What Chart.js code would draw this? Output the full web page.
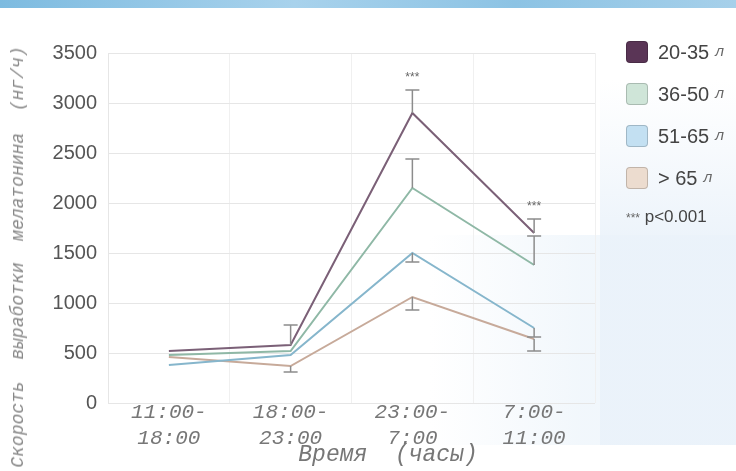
<!DOCTYPE html>
<html>
<head>
<meta charset="utf-8">
<script src="https://cdn.jsdelivr.net/npm/chart.js@4/dist/chart.umd.min.js"></script>
<style>
  html, body { margin: 0; padding: 0; background: #fff; }
  #wrap { position: relative; width: 736px; height: 471px; overflow: hidden; background: #fff; }
  #topband { position: absolute; left: 0; top: 0; width: 736px; height: 8px;
    background: linear-gradient(to right, #7dbbe0, #a8d2ec 40%, #8cc3e4 70%, #a6d0ea); }
  #tint1 { position: absolute; left: 430px; top: 235px; width: 306px; height: 210px;
    background: linear-gradient(to right, rgba(240,246,252,0), rgba(238,245,251,0.8) 50%); }
  #tint2 { position: absolute; left: 600px; top: 80px; width: 136px; height: 365px;
    background: linear-gradient(to bottom, rgba(238,245,251,0), rgba(234,242,250,0.9) 45%); }
  canvas { position: absolute; left: 0; top: 0; }
  #ytitle { position: absolute; left: 18px; top: 257px; transform: translate(-50%, -50%) rotate(-90deg);
    white-space: pre; font: italic 18px "Liberation Mono", monospace; color: #888; }
  #xtitle { position: absolute; left: 388px; top: 455px; transform: translate(-50%, -50%);
    white-space: pre; font: italic 23px "Liberation Mono", monospace; color: #777; }
  #legend { position: absolute; left: 626px; top: 31px; font: 20px "Liberation Sans", Arial, sans-serif; color: #444; }
  .row { display: flex; align-items: center; height: 42px; }
  .box { width: 20px; height: 20px; border-radius: 4px; border: 1px solid rgba(0,0,0,0.18); margin-right: 10px; }
  .unit { font: italic 15px "Liberation Mono", monospace; color: #666; margin-left: 6px; }
  #pval { margin-top: 8px; font-size: 17px; }
</style>
</head>
<body>
<div id="wrap">
  <div id="topband"></div>
  <div id="tint1"></div>
  <div id="tint2"></div>
  <canvas id="melatoninChart" width="736" height="471"></canvas>
  <div id="ytitle">Скорость  выработки  мелатонина  (нг/ч)</div>
  <div id="xtitle">Время  (часы)</div>
  <div id="legend"></div>
</div>
<script>
// categories (time intervals) and age groups
const categories = [['11:00-', '18:00'], ['18:00-', '23:00'], ['23:00-', '7:00'], ['7:00-', '11:00']];
const groups = ['20-35', '36-50', '51-65', '> 65'];

// melatonin production rate, ng/h
const rate2035 = [520, 580, 2900, 1700];
const rate3650 = [480, 520, 2150, 1380];
const rate5165 = [380, 480, 1500, 750];
const rate65 = [460, 370, 1060, 640];

// one-sided error bars (positive = up, negative = down)
const err2035 = [null, 200, 230, 140];
const err3650 = [null, null, 290, 290];
const err5165 = [null, null, -90, -90];
const err65 = [null, -60, -130, -120];

// significance marks
const signif = ['', '', '***', '***'];

const yTicks = [0, 500, 1000, 1500, 2000, 2500, 3000, 3500];

const lineColors = ['#7b6077', '#8fb8a6', '#86b6cc', '#c7aa9a'];
const boxColors = ['#5a3556', '#cfe5d8', '#c3e0f2', '#ecdccf'];

const errorBars = {
    id: 'errorBars',
    afterDatasetsDraw(chart) {
        const ctx = chart.ctx;
        const xs = chart.scales.x, ys = chart.scales.y;
        ctx.save();
        ctx.strokeStyle = '#8c8c8c';
        ctx.lineWidth = 1.5;
        chart.data.datasets.forEach(ds => {
            ds.data.forEach((v, i) => {
                const e = ds.errors[i];
                if (e == null) return;
                const x = xs.getPixelForValue(i);
                const y0 = ys.getPixelForValue(v);
                const y1 = ys.getPixelForValue(v + e);
                ctx.beginPath();
                ctx.moveTo(x, y0);
                ctx.lineTo(x, y1);
                ctx.moveTo(x - 7, y1);
                ctx.lineTo(x + 7, y1);
                ctx.stroke();
            });
        });
        // stars above the top group
        ctx.fillStyle = '#666';
        ctx.font = '12px "Liberation Sans", Arial, sans-serif';
        ctx.textAlign = 'center';
        signif.forEach((s, i) => {
            if (!s) return;
            const top = rate2035[i] + (err2035[i] || 0);
            ctx.fillText(s, xs.getPixelForValue(i), ys.getPixelForValue(top) - 9);
        });
        ctx.restore();
    }
};

const seriesValues = [rate2035, rate3650, rate5165, rate65];
const seriesErrors = [err2035, err3650, err5165, err65];

new Chart(document.getElementById('melatoninChart'), {
    type: 'line',
    data: {
        labels: categories,
        datasets: groups.map((g, k) => ({
            label: g,
            data: seriesValues[k],
            errors: seriesErrors[k],
            borderColor: lineColors[k],
            backgroundColor: lineColors[k],
            borderWidth: 2,
            pointRadius: 0,
            tension: 0
        }))
    },
    options: {
        responsive: false,
        animation: false,
        layout: { padding: { left: 0, right: 141, top: 53, bottom: 0 } },
        plugins: { legend: { display: false }, tooltip: { enabled: false } },
        scales: {
            x: {
                offset: true,
                afterFit: s => { s.height = 68; },
                grid: { offset: true, color: '#f0f0f0', drawTicks: false },
                border: { display: false },
                ticks: {
                    padding: -4,
                    color: '#777',
                    font: { family: '"Liberation Mono", monospace', style: 'italic', size: 21, lineHeight: 1.25 },
                    maxRotation: 0
                }
            },
            y: {
                min: 0,
                max: 3500,
                afterFit: s => { s.width = 108; },
                afterBuildTicks: s => { s.ticks = yTicks.map(v => ({ value: v })); },
                grid: { color: '#e6e6e6', drawTicks: false },
                border: { display: true, color: '#e6e6e6' },
                ticks: {
                    padding: 11,
                    color: '#555',
                    callback: v => String(v),
                    font: { family: '"Liberation Sans", Arial, sans-serif', size: 20 }
                }
            }
        }
    },
    plugins: [errorBars]
});

// legend
const legend = document.getElementById('legend');
groups.forEach((g, k) => {
    const row = document.createElement('div');
    row.className = 'row';
    row.innerHTML = '<div class="box" style="background:' + boxColors[k] + '"></div>' + g + '<span class="unit">л</span>';
    legend.appendChild(row);
});
const pv = document.createElement('div');
pv.id = 'pval';
pv.innerHTML = '<span style="font-size:12px;color:#666">***</span> p&lt;0.001';
legend.appendChild(pv);
</script>
</body>
</html>
